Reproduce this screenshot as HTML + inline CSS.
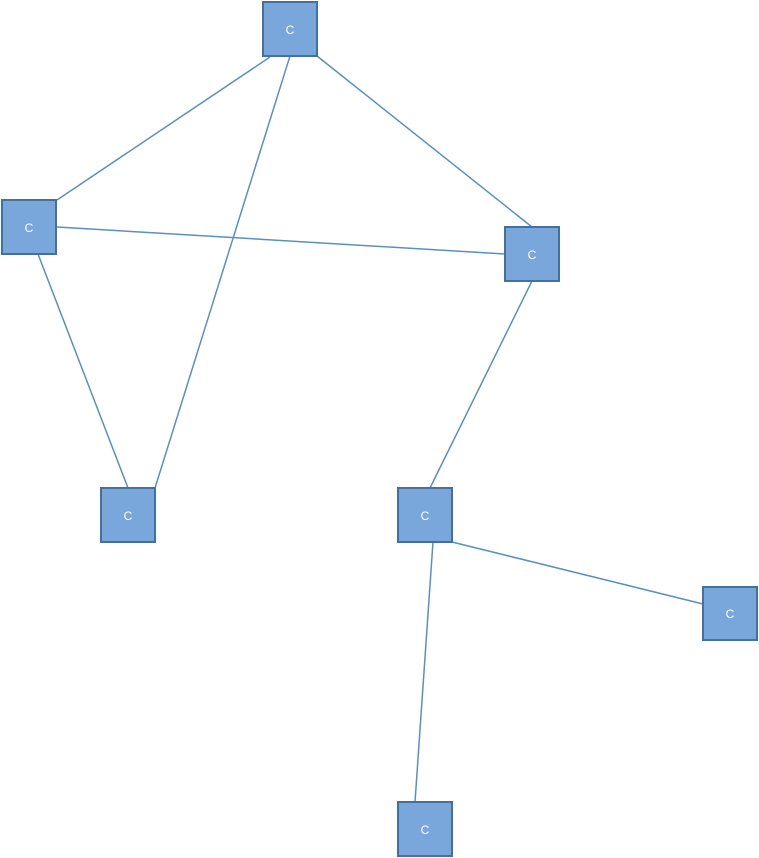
<!DOCTYPE html>
<html><head><meta charset="utf-8"><style>
html,body{margin:0;padding:0;background:#fff;}
svg{display:block;}
text{font-family:"Liberation Sans",sans-serif;font-size:12px;fill:#fff;}
</style></head><body>
<svg width="759" height="858" viewBox="0 0 759 858" xmlns="http://www.w3.org/2000/svg">
<g stroke="#5a8fc3" stroke-width="1.5" fill="none">
<line x1="270" y1="57" x2="57" y2="200"/>
<line x1="290" y1="56" x2="155" y2="488"/>
<line x1="317" y1="56" x2="532" y2="227"/>
<line x1="57" y1="227" x2="505" y2="254"/>
<line x1="38" y1="254" x2="128" y2="488"/>
<line x1="532" y1="281" x2="430" y2="488"/>
<line x1="452" y1="542" x2="703" y2="604"/>
<line x1="433" y1="542" x2="415" y2="802"/>
</g>
<g fill="#7aa7db" stroke="#41719c" stroke-width="2">
<rect x="263" y="2" width="54" height="54"/>
<rect x="2" y="200" width="54" height="54"/>
<rect x="505" y="227" width="54" height="54"/>
<rect x="101" y="488" width="54" height="54"/>
<rect x="398" y="488" width="54" height="54"/>
<rect x="703" y="587" width="54" height="53"/>
<rect x="398" y="802" width="54" height="54"/>
</g>
<g text-anchor="middle">
<text x="290" y="34">C</text>
<text x="29" y="232">C</text>
<text x="532" y="259">C</text>
<text x="128" y="520">C</text>
<text x="425" y="520">C</text>
<text x="730" y="618">C</text>
<text x="425" y="834">C</text>
</g>
</svg>
</body></html>
